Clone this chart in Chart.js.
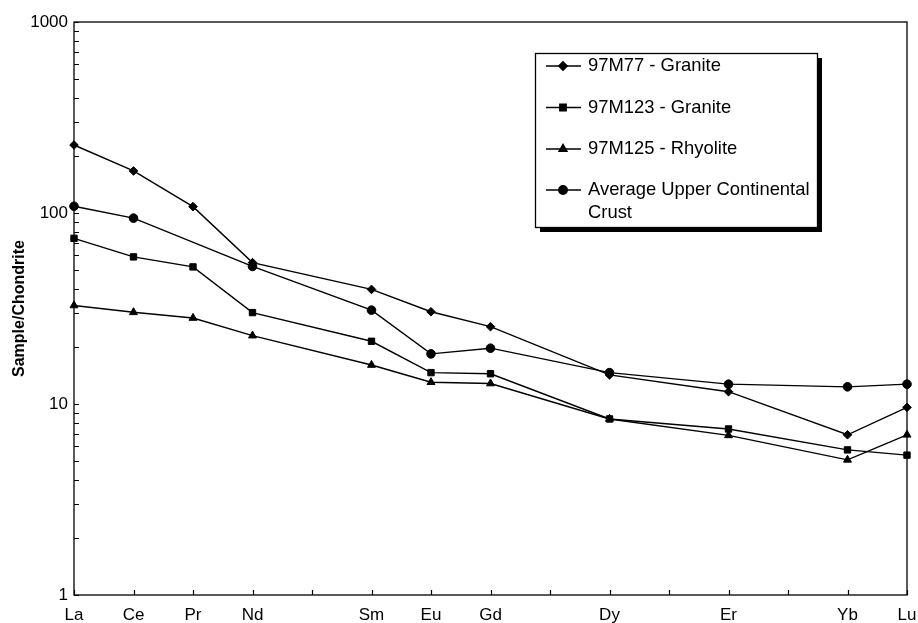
<!DOCTYPE html>
<html>
<head>
<meta charset="utf-8">
<script src="https://cdn.jsdelivr.net/npm/chart.js@4/dist/chart.umd.min.js"></script>
<style>
html,body{margin:0;padding:0;background:#fff;}
#wrap{width:918px;height:623px;position:relative;}
</style>
</head>
<body>
<div id="wrap"><canvas id="c" width="918" height="623"></canvas></div>
<script>
// Rare earth element positions (gaps are unlabelled positions)
const elements = ['La','Ce','Pr','Nd','','Sm','Eu','Gd','','Dy','','Er','','Yb','Lu'];
const yTickValues = [1, 10, 100, 1000];

const seriesNames = ['97M77 - Granite', '97M123 - Granite', '97M125 - Rhyolite', 'Average Upper Continental Crust'];
const legendLines = [['97M77 - Granite'], ['97M123 - Granite'], ['97M125 - Rhyolite'], ['Average Upper Continental', 'Crust']];

const granite77   = [227, 166, 108, 55, null, 39.8, 30.4, 25.4, null, 14.2, null, 11.6, null, 6.9, 9.6];
const granite123  = [73.7, 58.9, 52.2, 30.1, null, 21.3, 14.6, 14.4, null, 8.35, null, 7.4, null, 5.75, 5.4];
const rhyolite125 = [32.8, 30.2, 28.2, 22.8, null, 16.0, 13.0, 12.8, null, 8.35, null, 6.85, null, 5.1, 6.9];
const aucc        = [108.5, 94, null, 52.5, null, 31.0, 18.3, 19.6, null, 14.6, null, 12.7, null, 12.3, 12.7];

const styles = ['rectRot', 'rect', 'triangle', 'circle'];
const radii = [4.3, 4.5, 4.6, 4.3];

function mkDs(i, data) {
  return {
    label: seriesNames[i],
    data: data,
    borderColor: '#000',
    backgroundColor: '#000',
    borderWidth: 1.4,
    pointStyle: styles[i],
    pointRadius: radii[i],
    pointBorderWidth: 1,
    pointBackgroundColor: '#000',
    pointBorderColor: '#000',
    spanGaps: true,
    tension: 0,
    fill: false
  };
}

const frameAndTicks = {
  id: 'frameAndTicks',
  afterDatasetsDraw(chart) {
    const ctx = chart.ctx, a = chart.chartArea;
    const xs = chart.scales.x, ys = chart.scales.y;
    ctx.save();
    ctx.strokeStyle = '#000';
    ctx.lineWidth = 1.3;
    ctx.strokeRect(a.left, a.top, a.right - a.left, a.bottom - a.top);
    ctx.lineWidth = 1.2;
    ctx.beginPath();
    for (let i = 0; i < elements.length; i++) {
      const px = Math.round(xs.getPixelForValue(i)) + 0.5;
      ctx.moveTo(px, a.bottom);
      ctx.lineTo(px, a.bottom - 5);
    }
    for (let d = 1; d < 1000; d *= 10) {
      for (let m = 1; m <= 10; m++) {
        const py = Math.round(ys.getPixelForValue(d * m)) + 0.5;
        ctx.moveTo(a.left, py);
        ctx.lineTo(a.left + 5, py);
      }
    }
    ctx.stroke();
    ctx.restore();
  }
};

const boxLegend = {
  id: 'boxLegend',
  afterDraw(chart) {
    const ctx = chart.ctx;
    const bx = 535, by = 53, bw = 282, bh = 174;
    ctx.save();
    ctx.fillStyle = '#000';
    ctx.fillRect(bx + 5, by + 5, bw, bh);
    ctx.fillStyle = '#fff';
    ctx.fillRect(bx, by, bw, bh);
    ctx.strokeStyle = '#000';
    ctx.lineWidth = 1.3;
    ctx.strokeRect(bx + 0.5, by + 0.5, bw, bh);
    const rows = [66, 107.5, 149, 190];
    ctx.font = '18.4px "Liberation Sans", Arial, sans-serif';
    ctx.textBaseline = 'middle';
    ctx.textAlign = 'left';
    chart.data.datasets.forEach((ds, i) => {
      const y = rows[i];
      ctx.strokeStyle = '#000';
      ctx.lineWidth = 1.4;
      ctx.beginPath();
      ctx.moveTo(546, y);
      ctx.lineTo(581, y);
      ctx.stroke();
      ctx.fillStyle = '#000';
      Chart.helpers.drawPoint(ctx, {
        pointStyle: ds.pointStyle, radius: ds.pointRadius, borderWidth: 1, rotation: 0
      }, 563, y);
      ctx.fillStyle = '#000';
      legendLines[i].forEach((t, k) => ctx.fillText(t, 588, y + k * 23));
    });
    ctx.restore();
  }
};

new Chart(document.getElementById('c'), {
  type: 'line',
  data: {
    labels: elements,
    datasets: [mkDs(0, granite77), mkDs(1, granite123), mkDs(2, rhyolite125), mkDs(3, aucc)]
  },
  options: {
    responsive: false,
    animation: false,
    layout: { padding: { left: 0, right: 11, top: 22, bottom: 0 } },
    plugins: { legend: { display: false }, tooltip: { enabled: false } },
    scales: {
      x: {
        type: 'category',
        offset: false,
        grid: { display: false, drawTicks: false },
        border: { display: false },
        ticks: {
          autoSkip: false, maxRotation: 0, padding: 10, color: '#000',
          font: { size: 17, family: '"Liberation Sans", Arial, sans-serif' }
        },
        afterFit(s) { s.height = 28; s.paddingLeft = 0; s.paddingRight = 0; }
      },
      y: {
        type: 'logarithmic',
        min: 1, max: 1000,
        grid: { display: false, drawTicks: false },
        border: { display: false },
        afterBuildTicks(s) { s.ticks = yTickValues.map(v => ({ value: v })); },
        ticks: {
          padding: 6, color: '#000',
          font: { size: 17, family: '"Liberation Sans", Arial, sans-serif' },
          callback: v => String(v)
        },
        title: {
          display: true, text: 'Sample/Chondrite', color: '#000',
          font: { size: 16, weight: 'bold', family: '"Liberation Sans", Arial, sans-serif' },
          padding: { top: 10, bottom: 0 }
        },
        afterFit(s) { s.width = 74; s.paddingTop = 0; s.paddingBottom = 0; }
      }
    }
  },
  plugins: [frameAndTicks, boxLegend]
});
</script>
</body>
</html>
